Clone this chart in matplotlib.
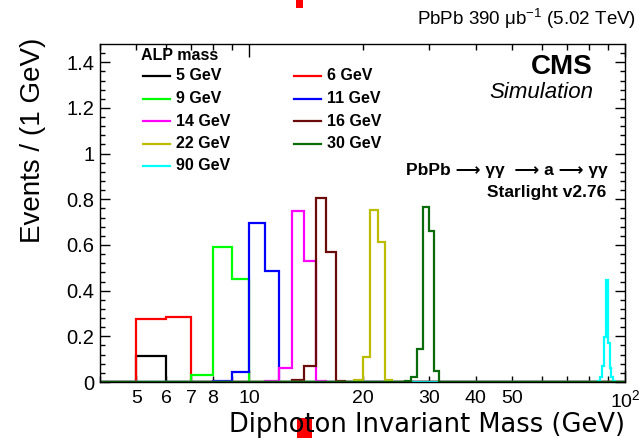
import numpy as np
import matplotlib as mpl
mpl.use('Agg')
import matplotlib.pyplot as plt
from matplotlib.lines import Line2D
from matplotlib.patches import Rectangle
from matplotlib.ticker import FixedLocator, FixedFormatter

plt.rcParams['font.family'] = ['Liberation Sans', 'DejaVu Sans']
plt.rcParams['mathtext.fontset'] = 'custom'
plt.rcParams['mathtext.rm'] = 'Liberation Sans'
plt.rcParams['mathtext.it'] = 'Liberation Sans:italic'
plt.rcParams['mathtext.bf'] = 'Liberation Sans:bold'

# 1 GeV bins from 4 to 100 GeV
bin_edges = np.arange(4, 101)

# ALP mass points and their histogram contents (first bin low edge + nonzero bins)
alp_masses = [5, 6, 9, 11, 14, 16, 22, 30, 90]
colors = ['black', '#ff0000', '#00ff00', '#0000ff', '#ff00ff', '#6b0a0a', '#bcbc00', '#0a6b0a', '#00ffff']
first_bin = [5, 5, 7, 8, 11, 13, 19, 26, 85]
m5 = [0.115]
m6 = [0.275, 0.283]
m9 = [0.03, 0.589, 0.452]
m11 = [0.005, 0.045, 0.697, 0.484]
m14 = [0.003, 0.06, 0.749, 0.528, 0.003]
m16 = [0.01, 0.07, 0.806, 0.568, 0.005]
m22 = [0.01, 0.109, 0.752, 0.612, 0.01]
m30 = [0.003, 0.02, 0.145, 0.765, 0.66, 0.046]
m90 = [0.005, 0.02, 0.07, 0.195, 0.445, 0.17, 0.06, 0.02, 0.005]
contents = [m5, m6, m9, m11, m14, m16, m22, m30, m90]

x_minor_ticks = [4, 5, 6, 7, 8, 9, 20, 30, 40, 50, 60, 70, 80, 90]
x_minor_labels = ['', '5', '6', '7', '8', '', '20', '30', '40', '50', '', '', '', '']
x_major_ticks = [10, 100]
x_major_labels = ['10', '$10^{2}$']

W, H = 642, 438


def fx(px):
    return px / W


def fy(py):
    return 1 - py / H


fig = plt.figure(figsize=(W / 100, H / 100), dpi=100)
ax = fig.add_axes([fx(100), fy(382), fx(525), 338 / H])

for i, (mass, col, start, vals) in enumerate(zip(alp_masses, colors, first_bin, contents)):
    h = np.zeros(len(bin_edges) - 1)
    k = start - bin_edges[0]
    h[k:k + len(vals)] = vals
    z = 5 if mass == 30 else 3
    ax.stairs(h, bin_edges, color=col, lw=1.6, baseline=0, zorder=z)

ax.set_xscale('log')
ax.set_xlim(4, 100)
ax.set_ylim(0, 1.48)

ax.xaxis.set_major_locator(FixedLocator(x_major_ticks))
ax.xaxis.set_major_formatter(FixedFormatter(x_major_labels))
ax.xaxis.set_minor_locator(FixedLocator(x_minor_ticks))
ax.xaxis.set_minor_formatter(FixedFormatter(x_minor_labels))
ax.set_yticks(np.arange(0, 1.41, 0.2))
ax.set_yticklabels(['0', '0.2', '0.4', '0.6', '0.8', '1', '1.2', '1.4'])
ax.set_yticks(np.arange(0, 1.48, 0.04), minor=True)

ax.tick_params(which='both', direction='in', top=True, right=True, labelsize=14.5, width=1)
ax.tick_params(axis='x', which='both', labelsize=14)
ax.tick_params(axis='x', which='major', length=9, pad=5.5)
ax.tick_params(axis='x', which='minor', length=4.5, pad=5.5)
ax.tick_params(axis='y', which='major', length=7, pad=4)
ax.tick_params(axis='y', which='minor', length=3.5, pad=4)
for s in ax.spines.values():
    s.set_linewidth(1.0)
    s.set_zorder(10)

# axis titles
fig.text(fx(625), fy(432.3), 'Diphoton Invariant Mass (GeV)', ha='right', va='baseline', fontsize=18.5,
         family=['DejaVu Sans'])
fig.text(fx(33), fy(38), 'Events / (1 GeV)', ha='center', va='top', rotation=90, fontsize=20)

# header and labels
fig.text(fx(636), fy(19), 'PbPb 390 \u03bcb$^{-1}$ (5.02 TeV)', ha='right', va='center', fontsize=13.5)
fig.text(fx(593), fy(67), 'CMS', ha='right', va='center', fontsize=20, fontweight='bold')
fig.text(fx(593), fy(92), 'Simulation', ha='right', va='center', fontsize=16, style='italic')
fig.text(fx(608), fy(171), 'PbPb \u27f6 \u03b3\u03b3  \u27f6 a \u27f6 \u03b3\u03b3', ha='right', va='center',
         fontsize=12.5, fontweight='bold')
fig.text(fx(606), fy(192), 'Starlight v2.76', ha='right', va='center', fontsize=12.5, fontweight='bold')

# legend, two columns filled row by row
fig.text(fx(141), fy(55), 'ALP mass', ha='left', va='center', fontsize=11.5, fontweight='bold')
col_x = [143, 294]
for i, (mass, col) in enumerate(zip(alp_masses, colors)):
    r, c = divmod(i, 2)
    y = 76 + 22.5 * r
    x0 = col_x[c]
    fig.add_artist(Line2D([fx(x0), fx(x0 + 27)], [fy(y), fy(y)], color=col, lw=1.6))
    fig.text(fx(x0 + 33), fy(y), f'{mass} GeV', ha='left', va='center', fontsize=11.5, fontweight='bold')

# red marks present in the reference image
fig.add_artist(Rectangle((fx(296), fy(8)), 7 / W, 8 / H, color='#ff0000', lw=0))
fig.add_artist(Rectangle((fx(297), fy(438)), 15 / W, 20 / H, color='#ff0000', lw=0))

fig.savefig('out.png', dpi=100)
